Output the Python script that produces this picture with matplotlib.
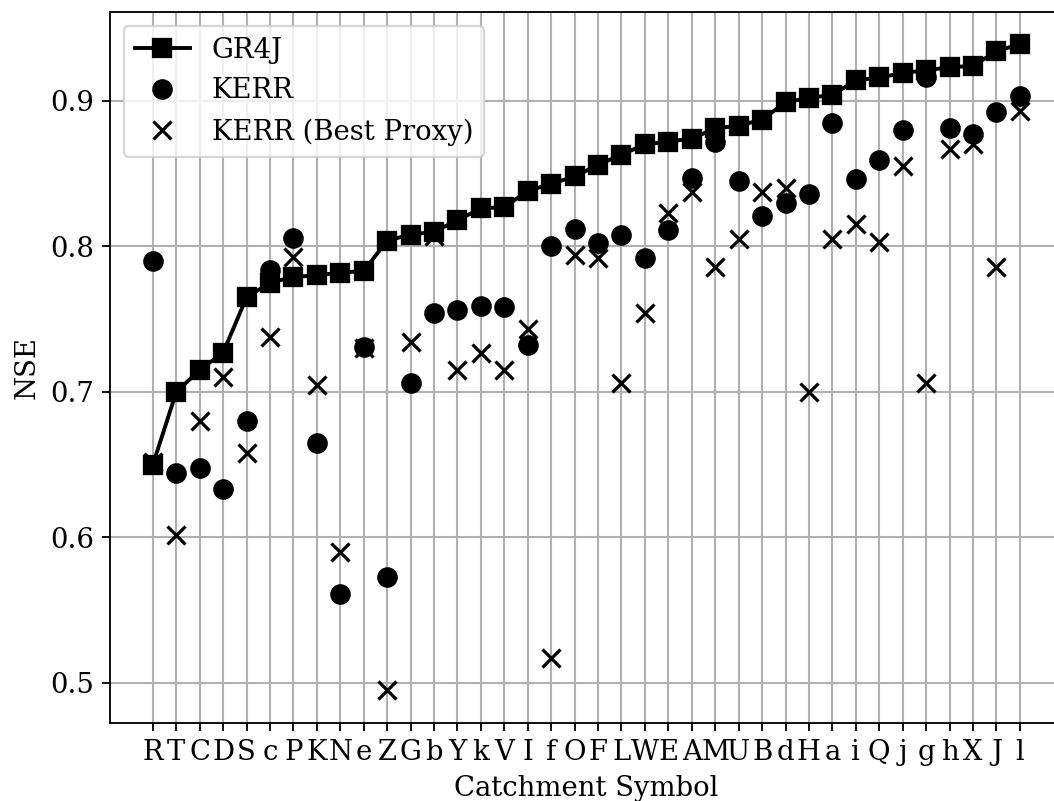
import matplotlib
matplotlib.use("Agg")
import matplotlib.pyplot as plt
import numpy as np

catchments = ["R", "T", "C", "D", "S", "c", "P", "K", "N", "e", "Z", "G", "b", "Y",
              "k", "V", "I", "f", "O", "F", "L", "W", "E", "A", "M", "U", "B", "d",
              "H", "a", "i", "Q", "j", "g", "h", "X", "J", "l"]

gr4j = [0.650, 0.700, 0.715, 0.727, 0.765, 0.775, 0.779, 0.780, 0.782, 0.783,
        0.804, 0.808, 0.810, 0.818, 0.826, 0.827, 0.838, 0.843, 0.848, 0.856,
        0.863, 0.870, 0.872, 0.874, 0.881, 0.883, 0.887, 0.899, 0.902, 0.904,
        0.914, 0.916, 0.919, 0.921, 0.923, 0.924, 0.934, 0.939]

kerr = [0.790, 0.644, 0.648, 0.633, 0.680, 0.784, 0.806, 0.665, 0.561, 0.731,
        0.573, 0.706, 0.754, 0.756, 0.759, 0.758, 0.732, 0.800, 0.812, 0.802,
        0.808, 0.792, 0.811, 0.847, 0.872, 0.845, 0.821, 0.830, 0.836, 0.885,
        0.846, 0.859, 0.880, 0.916, 0.881, 0.877, 0.892, 0.903]

kerr_best_proxy = [0.652, 0.602, 0.680, 0.710, 0.658, 0.738, 0.793, 0.705, 0.590, 0.730,
                   0.495, 0.734, 0.807, 0.715, 0.727, 0.715, 0.743, 0.517, 0.794, 0.792,
                   0.706, 0.754, 0.823, 0.837, 0.786, 0.805, 0.837, 0.840, 0.700, 0.805,
                   0.815, 0.803, 0.855, 0.706, 0.867, 0.870, 0.786, 0.893]

plt.rcParams['font.family'] = ['DejaVu Serif']
plt.rcParams['font.size'] = 12

W, H, DPI = 1054, 801, 165
fig = plt.figure(figsize=(W / DPI, H / DPI), dpi=DPI)
ax_left = 110 / W
ax_bottom = 1 - 723 / H
ax_height = (723 - 12) / H
ax_width = 952.7 / W
ax = fig.add_axes([ax_left, ax_bottom, ax_width, ax_height])

x = np.arange(len(catchments))
ax.plot(x, gr4j, color='black', marker='s', markersize=8, linewidth=1.7, label='GR4J', zorder=3)
ax.plot(x, kerr, color='black', marker='o', markersize=8, linestyle='none', label='KERR', zorder=3)
ax.plot(x, kerr_best_proxy, color='black', marker='x', markersize=8, markeredgewidth=1.4,
        linestyle='none', label='KERR (Best Proxy)', zorder=3)

ax.set_xticks(x)
ax.set_xticklabels(catchments)
ax.set_xlim(-1.83, 38.83)
ax.set_ylim(0.4725, 0.961)
ax.set_yticks([0.5, 0.6, 0.7, 0.8, 0.9])
ax.grid(True, color='#b0b0b0', linewidth=0.9)
ax.set_axisbelow(True)
ax.set_xlabel('Catchment Symbol')
ax.set_ylabel('NSE')
ax.legend(loc='upper left')

fig.savefig('out.png', dpi=DPI)
